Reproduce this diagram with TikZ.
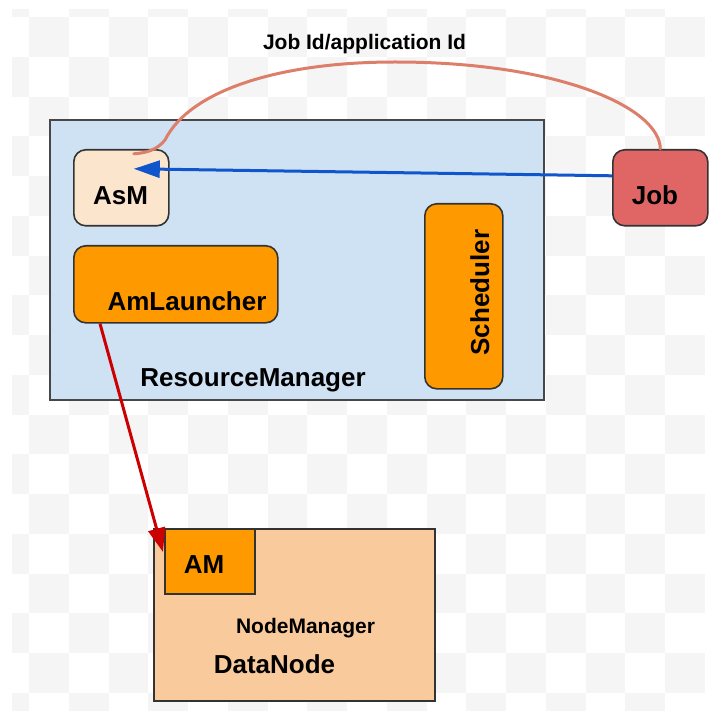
\documentclass[tikz,border=0pt]{standalone}
\usepackage{fontspec}
\setmainfont{Liberation Sans}
\usetikzlibrary{arrows.meta}
\definecolor{chk}{RGB}{245,245,245}
\definecolor{rmfill}{HTML}{CFE2F3}
\definecolor{asmfill}{HTML}{FCE5CD}
\definecolor{jobfill}{HTML}{E06666}
\definecolor{orng}{HTML}{FF9900}
\definecolor{dnfill}{HTML}{F9CB9C}
\definecolor{salmon}{HTML}{DD7E6B}
\definecolor{blu}{HTML}{1155CC}
\definecolor{rd}{HTML}{CC0000}
\definecolor{edge}{HTML}{333333}
\tikzset{
  box/.style={draw=edge, line width=1.6pt, inner sep=0pt, anchor=north west},
  rbox/.style={box, rounded corners=12pt},
  big/.style={font=\fontsize{26}{30}\selectfont\bfseries, inner sep=0pt, anchor=base},
  mid/.style={font=\fontsize{21}{25}\selectfont\bfseries, inner sep=0pt, anchor=base},
  conn/.style={line width=3pt},
}
\begin{document}
\begin{tikzpicture}[x=1pt,y=-1pt]
\useasboundingbox (0,0) rectangle (714,711);
\begin{scope}
\clip (12,10) rectangle (714,711);
\foreach \c in {-1,...,16} \foreach \r in {-1,...,17} {
  \pgfmathtruncatemacro\pp{mod(\c+\r+4,2)}
  \ifnum\pp=0 \fill[chk] (29+39.76*\c,17+39.76*\r) rectangle ++(39.76,39.76); \fi
}
\end{scope}
% boxes
\node[box, fill=rmfill, line width=2pt, draw=edge!90!white, minimum width=494pt, minimum height=280pt] (rm) at (49,119) {};
\node[rbox, fill=asmfill, minimum width=95pt, minimum height=76pt] (asm) at (73,149) {};
\node[rbox, fill=jobfill, minimum width=95pt, minimum height=76pt] (job) at (612,149) {};
\node[rbox, fill=orng, minimum width=204pt, minimum height=77pt] (aml) at (73,245) {};
\node[rbox, fill=orng, minimum width=78pt, minimum height=185pt] (sched) at (424,203) {};
\node[box, fill=dnfill, line width=2pt, minimum width=281pt, minimum height=172pt] (dn) at (153,528) {};
\node[box, fill=orng, minimum width=90pt, minimum height=65pt] (am) at (164,528) {};
% labels
\node[mid] (title) at (364.5,50) {Job Id/application Id};
\node[big] (asmlbl) at (120.5,205) {AsM};
\node[big] (joblbl) at (655,205) {Job};
\node[big] (amllbl) at (187,310) {AmLauncher};
\node[big] (rmlbl) at (253,386) {ResourceManager};
\node[big, rotate=90] (schedlbl) at (489,292.5) {Scheduler};
\node[big] (amlbl) at (204,573) {AM};
\node[mid] (nmlbl) at (305.5,633) {NodeManager};
\node[big] (dnlbl) at (274.5,673) {DataNode};
% connectors
\draw[conn, salmon, line cap=round] (job.north) .. controls (660,108) and (560,62) .. (395,62)
  .. controls (280,62) and (190,90) .. (165,140)
  .. controls (157,150) and (146,153) .. ([xshift=12.5pt,yshift=34pt]asm.center);
\draw[conn, blu, -{Triangle[length=26pt,width=17pt]}] ([yshift=12pt]job.west) -- ([xshift=12.5pt,yshift=19pt]asm.center);
\draw[conn, rd, -{Triangle[length=24pt,width=17pt]}] ([xshift=27pt]aml.south west) -- ([xshift=-1pt,yshift=-24pt]am.north west);
\end{tikzpicture}
\end{document}
